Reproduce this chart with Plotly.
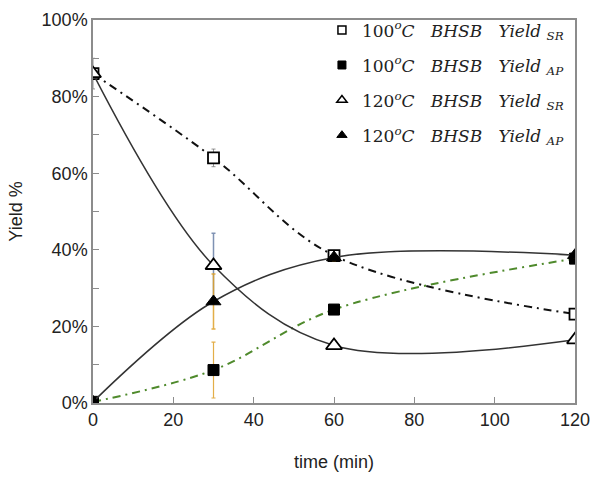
import plotly.graph_objects as go

time_min = [0, 30, 60, 120]

# Yield values (fraction)
y100_sr = [0.86, 0.64, 0.385, 0.232]
y100_ap = [0.003, 0.086, 0.244, 0.377]
y120_sr = [0.86, 0.359, 0.150, 0.165]
y120_ap = [0.003, 0.265, 0.380, 0.386]

err100_sr = [0.04, 0.023, 0.008, 0.006]
err100_ap = [0.004, 0.073, 0.01, 0.005]
err120_sr = [0.0, 0.084, 0.004, 0.004]
err120_ap = [0.0, 0.072, 0.008, 0.008]

x_ticks = [0, 20, 40, 60, 80, 100, 120]
y_ticks = [0, 0.2, 0.4, 0.6, 0.8, 1.0]
y_ticktext = ["0%", "20%", "40%", "60%", "80%", "100%"]

legend_names = [
    "100<sup><i>o</i></sup><i>C   BHSB   Yield</i> <sub><i>SR</i></sub>",
    "100<sup><i>o</i></sup><i>C   BHSB   Yield</i> <sub><i>AP</i></sub>",
    "120<sup><i>o</i></sup><i>C   BHSB   Yield</i> <sub><i>SR</i></sub>",
    "120<sup><i>o</i></sup><i>C   BHSB   Yield</i> <sub><i>AP</i></sub>",
]

GREEN = "#4f8a2c"
ORANGE = "rgba(222,160,40,0.85)"
BLUEGRAY = "rgba(120,140,175,0.95)"

fig = go.Figure()

# 100 SR
fig.add_trace(go.Scatter(
    x=time_min, y=y100_sr, mode="lines+markers",
    line=dict(color="#111", width=2, dash="8px,5px,2px,5px", shape="spline"),
    marker=dict(symbol="square", size=11, color="white", line=dict(color="black", width=1.8)),
    error_y=dict(type="data", array=err100_sr, color="rgba(120,120,120,0.8)", thickness=1, width=2),
    showlegend=False))
# 100 AP
fig.add_trace(go.Scatter(
    x=time_min, y=y100_ap, mode="lines+markers",
    line=dict(color=GREEN, width=2, dash="8px,5px,2px,5px", shape="spline"),
    marker=dict(symbol="square", size=11, color="black", line=dict(color="black", width=1)),
    error_y=dict(type="data", array=err100_ap, color=ORANGE, thickness=1.2, width=2),
    showlegend=False))
# 120 SR
fig.add_trace(go.Scatter(
    x=time_min, y=y120_sr, mode="lines+markers",
    line=dict(color="#333", width=1.5, shape="spline"),
    marker=dict(symbol="triangle-up", size=14, color="white", line=dict(color="black", width=1.8)),
    error_y=dict(type="data", array=err120_sr, color=BLUEGRAY, thickness=1.5, width=2),
    showlegend=False))
# 120 AP
fig.add_trace(go.Scatter(
    x=time_min, y=y120_ap, mode="lines+markers",
    line=dict(color="#333", width=1.5, shape="spline"),
    marker=dict(symbol="triangle-up", size=13, color="black", line=dict(color="black", width=1)),
    error_y=dict(type="data", array=err120_ap, color=ORANGE, thickness=1.5, width=2),
    showlegend=False))

# Legend-only entries (markers only)
leg_markers = [
    dict(symbol="square", size=8, color="white", line=dict(color="black", width=1.5)),
    dict(symbol="square", size=8, color="black", line=dict(color="black", width=1)),
    dict(symbol="triangle-up", size=9, color="white", line=dict(color="black", width=1.5)),
    dict(symbol="triangle-up", size=9, color="black", line=dict(color="black", width=1)),
]
for i, (nm, mk) in enumerate(zip(legend_names, leg_markers)):
    fig.add_trace(go.Scatter(x=[None], y=[None], mode="markers", name=nm,
                             marker=mk, legendgroup=f"g{i}", showlegend=True))

axis_common = dict(
    showline=True, linecolor="#8c8c8c", linewidth=1.5, mirror=True,
    showgrid=False, zeroline=False, ticks="inside", ticklen=6,
    tickcolor="#8c8c8c", tickwidth=1,
    tickfont=dict(family="Liberation Sans, Arial, sans-serif", size=18, color="#222"),
)

fig.update_layout(
    width=600, height=479,
    margin=dict(l=93, r=19, t=10, b=76),
    paper_bgcolor="white", plot_bgcolor="white",
    xaxis=dict(range=[0, 120], tickvals=x_ticks, **axis_common,
               title=dict(text="time (min)", standoff=26,
                          font=dict(family="Liberation Sans, Arial, sans-serif", size=18, color="#222"))),
    yaxis=dict(range=[0, 1.0], tickvals=y_ticks, ticktext=y_ticktext, **axis_common,
               minor=dict(dtick=0.1, ticks="inside", ticklen=6, tickcolor="#8c8c8c"),
               title=dict(text="Yield %", standoff=14,
                          font=dict(family="Liberation Sans, Arial, sans-serif", size=18, color="#222"))),
    legend=dict(x=0.475, y=1.02, xanchor="left", yanchor="top",
                bgcolor="rgba(0,0,0,0)", borderwidth=0,
                traceorder="grouped", tracegroupgap=10,
                font=dict(family="DejaVu Serif, Liberation Serif, serif", size=17, color="#222")),
)

fig.write_html("out.html")
